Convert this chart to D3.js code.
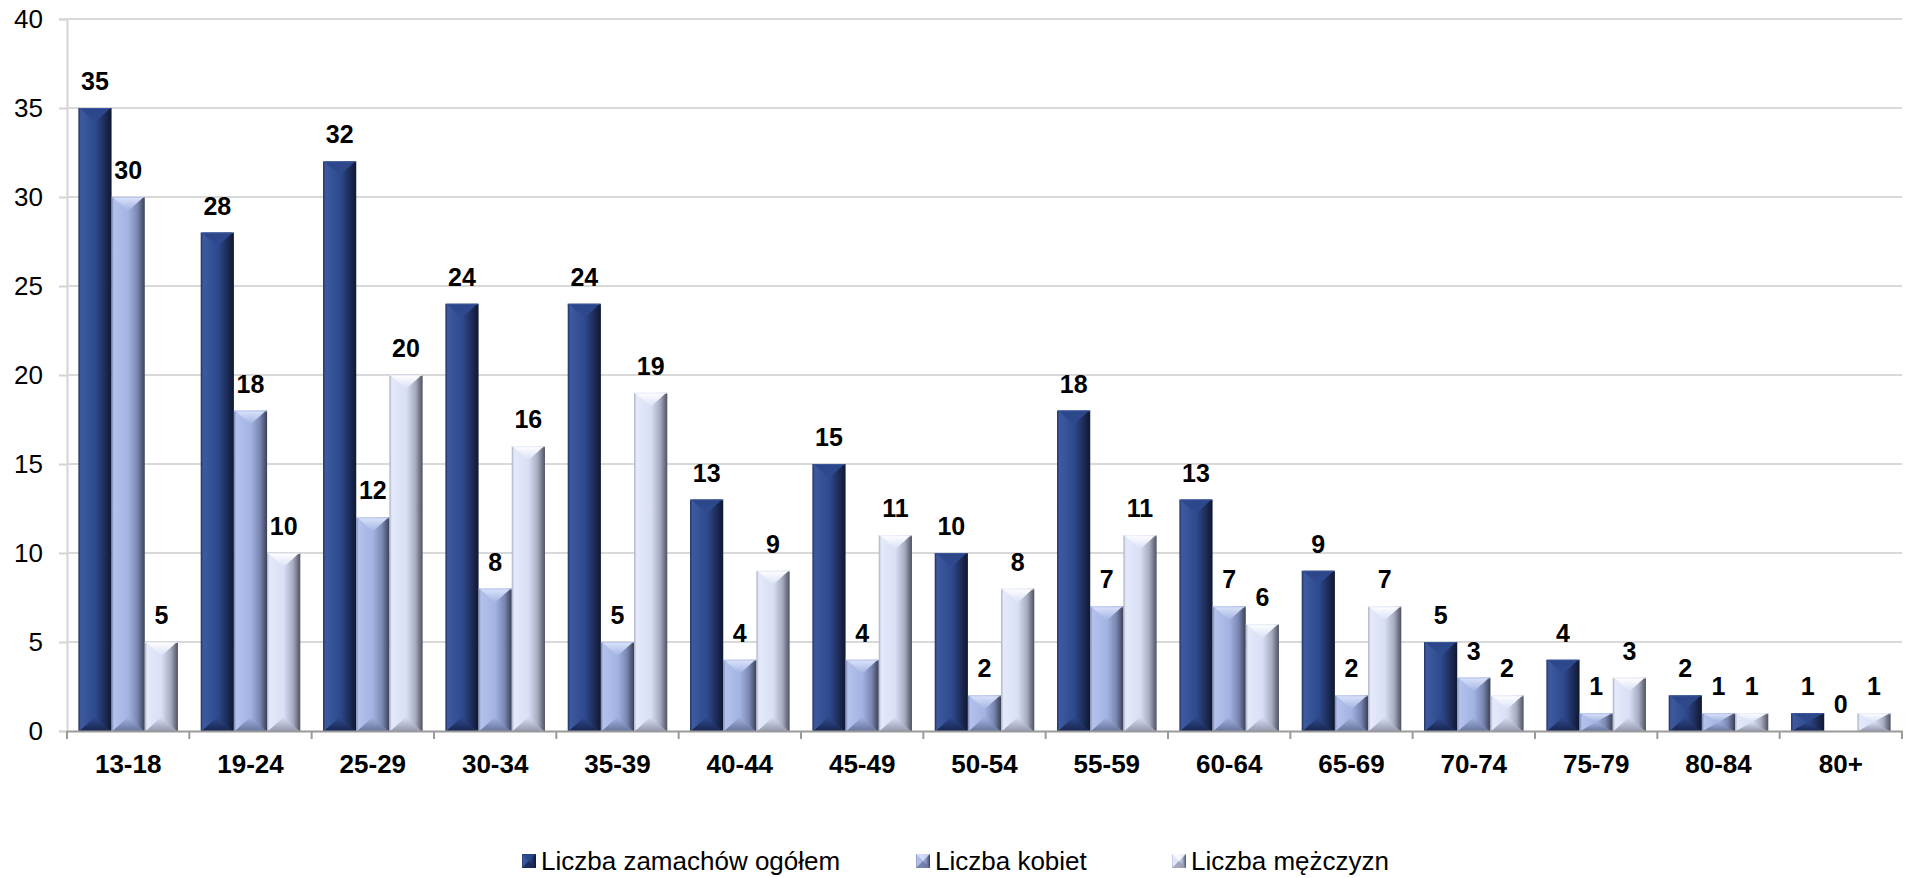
<!DOCTYPE html>
<html>
<head>
<meta charset="utf-8">
<script src="https://cdn.jsdelivr.net/npm/d3@7"></script>
<style>
  html, body { margin: 0; padding: 0; background: #ffffff; }
  svg { display: block; }
  text { font-family: "Liberation Sans", Arial, sans-serif; fill: #000; }
</style>
</head>
<body>
<svg id="chart" width="1910" height="878"></svg>
<script>
// Age groups
const categories = ["13-18", "19-24", "25-29", "30-34", "35-39", "40-44", "45-49", "50-54",
                    "55-59", "60-64", "65-69", "70-74", "75-79", "80-84", "80+"];
// Series values
const total = [35, 28, 32, 24, 24, 13, 15, 10, 18, 13, 9, 5, 4, 2, 1];
const women = [30, 18, 12, 8, 5, 4, 4, 2, 7, 7, 2, 3, 1, 1, 0];
const men   = [5, 10, 20, 16, 19, 9, 11, 8, 11, 6, 7, 2, 3, 1, 1];
const seriesNames = ["Liczba zamachów ogółem", "Liczba kobiet", "Liczba mężczyzn"];
const yTicks = [0, 5, 10, 15, 20, 25, 30, 35, 40];

const seriesValues = [total, women, men];

// Colour sets for the bevelled bars: body base, light edge, dark edge, top facet, bottom facet
const palettes = [
  { light: "#3d5aa0", base: "#2f4b8f", dark: "#1e2e5c", edge: "#0f1830", top: "#2b4588", bottom: "#18264f" },
  { light: "#b3c1ec", base: "#a3b3e2", dark: "#7a87b2", edge: "#3a4055", top: "#dbe4fb", bottom: "#68749c" },
  { light: "#e4e9fa", base: "#d9e0f5", dark: "#a7acc0", edge: "#4e5262", top: "#ffffff", bottom: "#959aae" }
];

const svg = d3.select("#chart");
const margin = { left: 67, right: 8, top: 19, bottom: 147 };
const W = 1910, H = 878;
const plotL = margin.left, plotR = W - margin.right;
const plotT = margin.top, plotB = H - margin.bottom;

const x0 = d3.scaleBand().domain(categories).range([plotL, plotR]).padding(0);
const groupPad = x0.bandwidth() * 0.093;
const x1 = d3.scaleBand().domain(d3.range(seriesNames.length))
  .range([groupPad, x0.bandwidth() - groupPad]).padding(0);
const y = d3.scaleLinear().domain([0, 40]).range([plotB, plotT]);

// Gradients for the bar bodies
const defs = svg.append("defs");
palettes.forEach((p, i) => {
  const g = defs.append("linearGradient").attr("id", "body" + i)
    .attr("x1", "0%").attr("x2", "100%").attr("y1", "0%").attr("y2", "0%");
  g.append("stop").attr("offset", "0%").attr("stop-color", p.dark);
  g.append("stop").attr("offset", "7%").attr("stop-color", p.light);
  g.append("stop").attr("offset", "50%").attr("stop-color", p.base);
  g.append("stop").attr("offset", "78%").attr("stop-color", p.dark);
  g.append("stop").attr("offset", "100%").attr("stop-color", p.edge);
  const t = defs.append("linearGradient").attr("id", "topf" + i)
    .attr("x1", "0%").attr("x2", "0%").attr("y1", "0%").attr("y2", "100%");
  t.append("stop").attr("offset", "0%").attr("stop-color", p.top);
  t.append("stop").attr("offset", "100%").attr("stop-color", p.base);
  const b = defs.append("linearGradient").attr("id", "botf" + i)
    .attr("x1", "0%").attr("x2", "0%").attr("y1", "0%").attr("y2", "100%");
  b.append("stop").attr("offset", "0%").attr("stop-color", p.base);
  b.append("stop").attr("offset", "100%").attr("stop-color", p.bottom);
});

// Gridlines and y axis
const yAxis = d3.axisLeft(y).tickValues(yTicks).tickSize(8).tickPadding(16).tickFormat(d3.format("d"));
const yg = svg.append("g").attr("transform", `translate(${plotL},0)`).call(yAxis);
yg.select(".domain").attr("stroke", "#d4d4d4").attr("stroke-width", 2);
yg.selectAll(".tick line").attr("stroke", "#d4d4d4").attr("stroke-width", 2);
yg.selectAll(".tick text").attr("font-size", 26).attr("font-family", "Liberation Sans, Arial, sans-serif").attr("fill", "#000");

svg.append("g").selectAll("line").data(yTicks.filter(d => d > 0)).join("line")
  .attr("x1", plotL).attr("x2", plotR)
  .attr("y1", d => y(d)).attr("y2", d => y(d))
  .attr("stroke", "#d9d9d9").attr("stroke-width", 2);

// Bars
function bevelBar(g, x, w, v, i) {
  const p = palettes[i];
  const yt = y(v), yb = y(0);
  const h = yb - yt;
  if (h <= 0) return;
  const d = Math.min(w * 0.42, h / 2);
  g.append("rect").attr("x", x).attr("y", yt).attr("width", w).attr("height", h)
    .attr("fill", `url(#body${i})`);
  // top facet
  g.append("path")
    .attr("d", `M${x + 1},${yt}L${x + w - 1},${yt}L${x + w / 2},${yt + d}Z`)
    .attr("fill", `url(#topf${i})`);
  // bottom facet
  g.append("path")
    .attr("d", `M${x + 1},${yb}L${x + w - 1},${yb}L${x + w / 2},${yb - d}Z`)
    .attr("fill", `url(#botf${i})`);
  // thin highlight along the top edge
  g.append("line").attr("x1", x).attr("x2", x + w).attr("y1", yt + 0.5).attr("y2", yt + 0.5)
    .attr("stroke", p.light).attr("stroke-width", 1).attr("opacity", 0.8);
}

const groups = svg.append("g").selectAll("g").data(categories).join("g")
  .attr("transform", d => `translate(${x0(d)},0)`);

groups.each(function (c, ci) {
  const g = d3.select(this);
  seriesValues.forEach((vals, si) => {
    bevelBar(g, x1(si), x1.bandwidth(), vals[ci], si);
  });
});

// Value labels
groups.each(function (c, ci) {
  const g = d3.select(this);
  seriesValues.forEach((vals, si) => {
    g.append("text")
      .attr("x", x1(si) + x1.bandwidth() / 2)
      .attr("y", y(vals[ci]) - 18)
      .attr("text-anchor", "middle")
      .attr("font-size", 25).attr("font-weight", "bold")
      .text(vals[ci]);
  });
});

// X axis
const xAxis = d3.axisBottom(x0).tickSize(0).tickPadding(24);
const xg = svg.append("g").attr("transform", `translate(0,${plotB})`).call(xAxis);
xg.select(".domain").attr("stroke", "#9a9a9a").attr("stroke-width", 2);
xg.selectAll(".tick text").attr("font-size", 26).attr("font-weight", "bold")
  .attr("font-family", "Liberation Sans, Arial, sans-serif").attr("fill", "#000");
// ticks between categories
const bounds = categories.map(c => x0(c)).concat([plotR]);
svg.append("g").selectAll("line").data(bounds).join("line")
  .attr("x1", d => d).attr("x2", d => d)
  .attr("y1", plotB).attr("y2", plotB + 8)
  .attr("stroke", "#9a9a9a").attr("stroke-width", 2);

// Legend
const legendX = [522, 916, 1172];
const legend = svg.append("g").selectAll("g").data(seriesNames).join("g")
  .attr("transform", (d, i) => `translate(${legendX[i]},${861})`);
legend.each(function (name, i) {
  const g = d3.select(this);
  const p = palettes[i];
  const s = 14;
  g.append("rect").attr("x", 0).attr("y", -s / 2).attr("width", s).attr("height", s)
    .attr("fill", `url(#body${i})`);
  g.append("path").attr("d", `M0,${-s / 2}L${s},${-s / 2}L${s / 2},0Z`).attr("fill", p.top).attr("opacity", 0.8);
  g.append("path").attr("d", `M0,${s / 2}L${s},${s / 2}L${s / 2},0Z`).attr("fill", p.bottom).attr("opacity", 0.8);
  g.append("text").attr("x", 19).attr("y", 9).attr("font-size", 26).text(name);
});
</script>
</body>
</html>
